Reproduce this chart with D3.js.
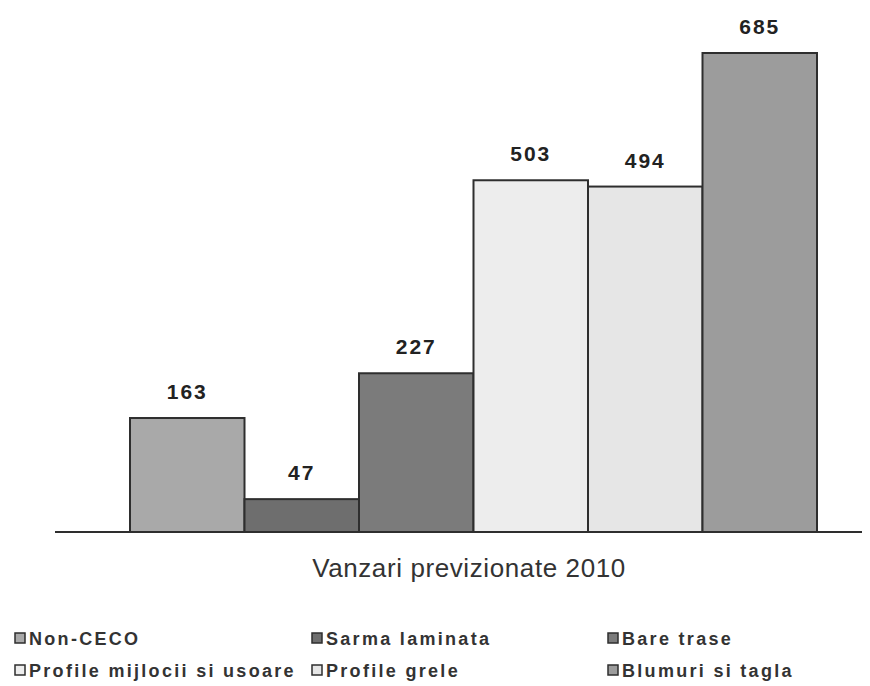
<!DOCTYPE html>
<html>
<head>
<meta charset="utf-8">
<script src="https://cdn.jsdelivr.net/npm/d3@7"></script>
<style>
  body { margin: 0; background: #fff; }
  svg { display: block; font-family: "Liberation Sans", Arial, sans-serif; }
</style>
</head>
<body>
<svg id="chart" width="870" height="686"></svg>
<script>
// Vanzari previzionate 2010 - one bar per product group
const categories = ["Non-CECO", "Sarma laminata", "Bare trase", "Profile mijlocii si usoare", "Profile grele", "Blumuri si tagla"];
const values = [163, 47, 227, 503, 494, 685];
const colors = ["#a9a9a9", "#6e6e6e", "#7b7b7b", "#ededed", "#e6e6e6", "#9c9c9c"];
const title = "Vanzari previzionate 2010";

const svg = d3.select("#chart");

const x = d3.scaleBand().domain(categories).range([130, 817]).padding(0);
const y = d3.scaleLinear().domain([0, 685]).range([532, 53]);

// bars
svg.selectAll("rect.bar")
  .data(categories)
  .join("rect")
  .attr("class", "bar")
  .attr("x", d => x(d))
  .attr("width", x.bandwidth())
  .attr("y", (d, i) => y(values[i]))
  .attr("height", (d, i) => y(0) - y(values[i]))
  .attr("fill", (d, i) => colors[i])
  .attr("stroke", "#2e2e2e")
  .attr("stroke-width", 2);

// value labels
svg.selectAll("text.val")
  .data(categories)
  .join("text")
  .attr("class", "val")
  .attr("x", d => x(d) + x.bandwidth() / 2)
  .attr("y", (d, i) => y(values[i]) - 19)
  .attr("text-anchor", "middle")
  .attr("font-size", 21)
  .attr("font-weight", "bold")
  .attr("letter-spacing", 2)
  .attr("fill", "#222")
  .text((d, i) => values[i]);

// baseline
svg.append("line")
  .attr("x1", 55).attr("x2", 862)
  .attr("y1", y(0)).attr("y2", y(0))
  .attr("stroke", "#2e2e2e")
  .attr("stroke-width", 2);

// category axis title
svg.append("text")
  .attr("x", 469).attr("y", 577)
  .attr("text-anchor", "middle")
  .attr("font-size", 26)
  .attr("letter-spacing", 0.6)
  .attr("fill", "#333")
  .text(title);

// legend, 3 columns x 2 rows
const legendCols = [15, 312, 608];
const legendRows = [645, 677];
const legend = svg.selectAll("g.leg")
  .data(categories)
  .join("g")
  .attr("class", "leg")
  .attr("transform", (d, i) => `translate(${legendCols[i % 3]},${legendRows[Math.floor(i / 3)]})`);

legend.append("rect")
  .attr("x", 0).attr("y", -12)
  .attr("width", 10).attr("height", 10)
  .attr("fill", (d, i) => colors[i])
  .attr("stroke", "#2e2e2e")
  .attr("stroke-width", 1.5);

legend.append("text")
  .attr("x", 14).attr("y", 0)
  .attr("font-size", 18)
  .attr("font-weight", "bold")
  .attr("letter-spacing", 2.3)
  .attr("fill", "#333")
  .text(d => d);
</script>
</body>
</html>
